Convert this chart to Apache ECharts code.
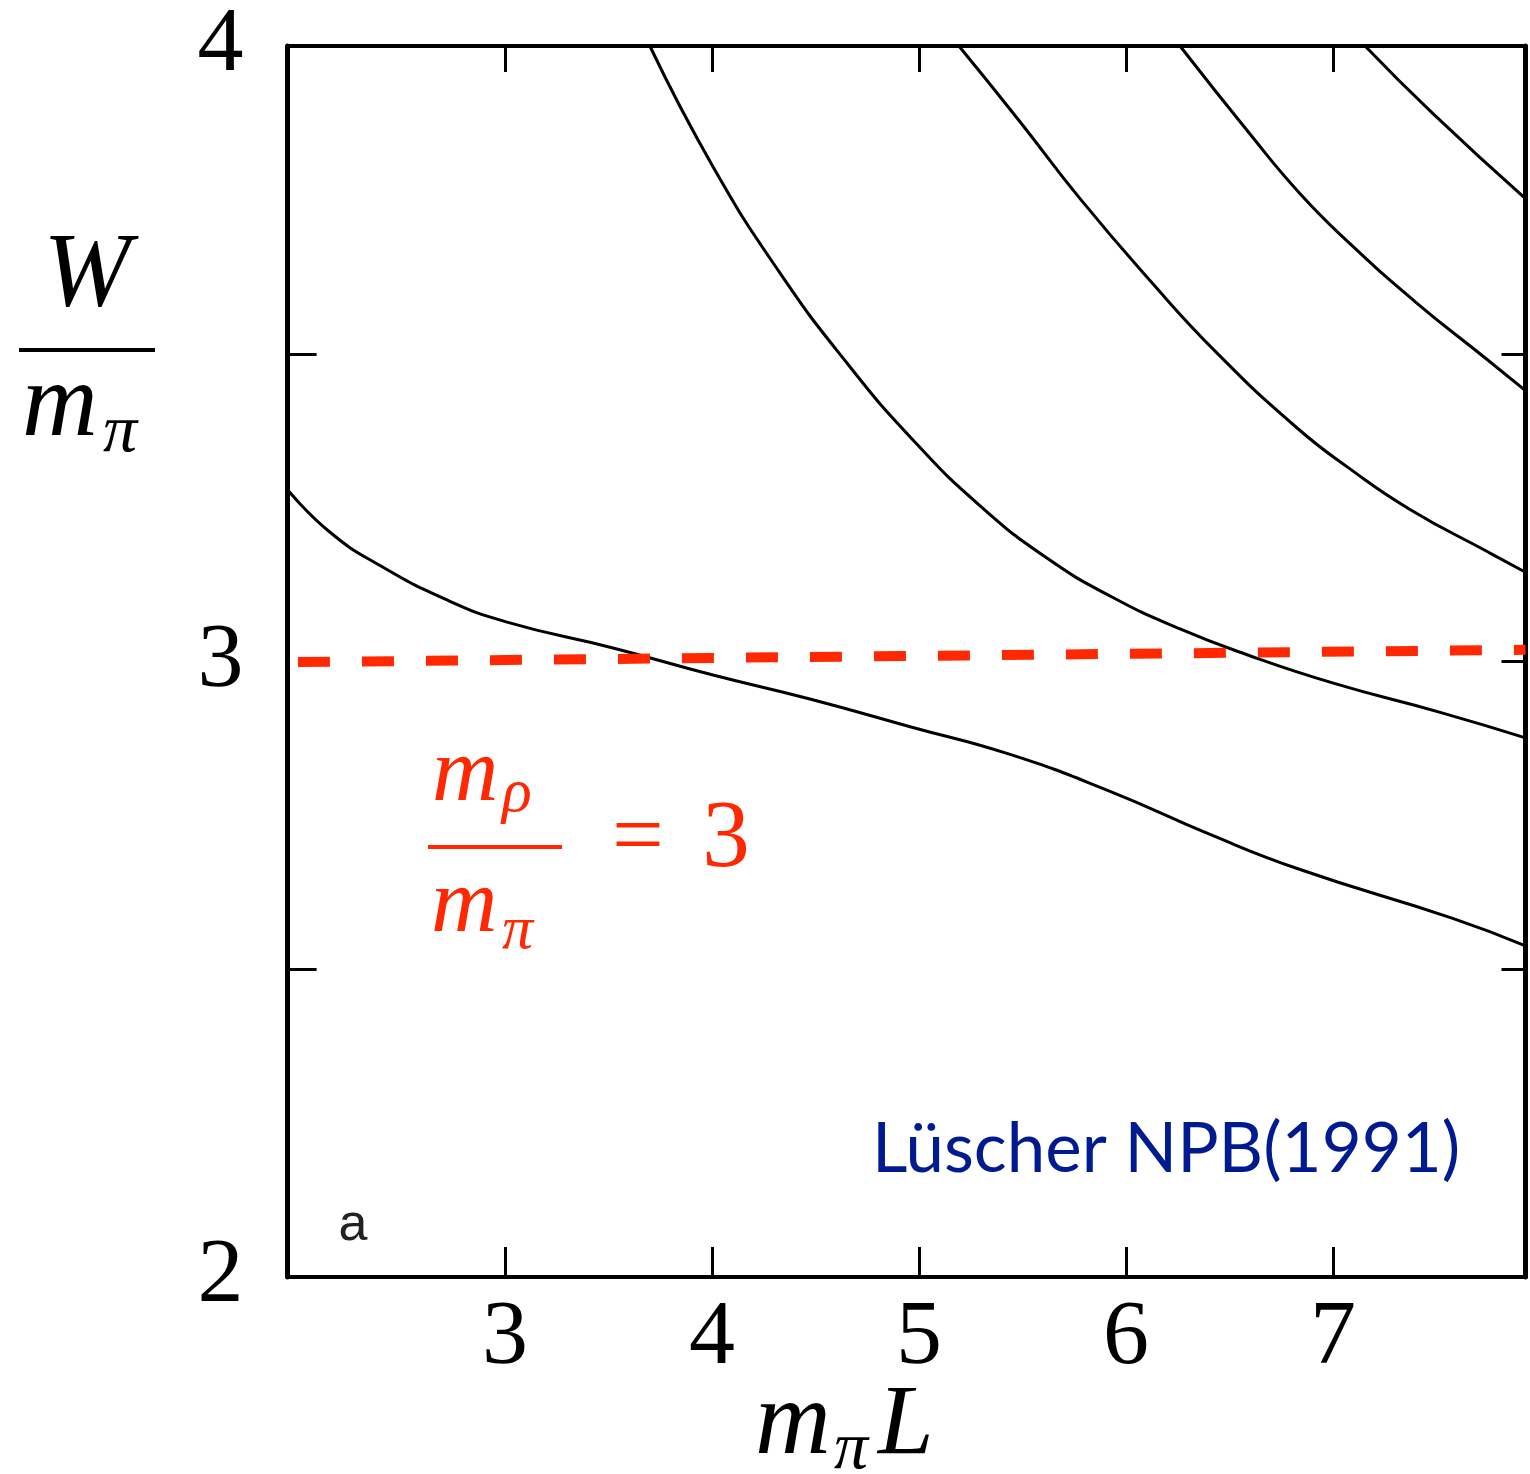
<!DOCTYPE html>
<html>
<head>
<meta charset="utf-8">
<title>Lüscher NPB(1991)</title>
<script src="https://cdn.jsdelivr.net/npm/echarts@6/dist/echarts.min.js"></script>
<style>
    html, body { margin: 0; padding: 0; background: #fff; }
    #chart { width: 1530px; height: 1474px; }
</style>
</head>
<body>
<div id="chart"></div>
<script>
// energy levels W/m_pi against m_pi*L
var level1 = [[1.95, 3.279], [2.155, 3.210], [2.396, 3.156], [2.72, 3.100], [3.01, 3.064], [3.522, 3.022],
    [4.005, 2.978], [4.473, 2.939], [4.957, 2.894], [5.44, 2.849], [5.923, 2.789], [6.406, 2.719],
    [6.841, 2.662], [7.575, 2.583], [7.93, 2.538]];
var level2 = [[3.70, 4.0], [4.005, 3.804], [4.329, 3.631], [4.652, 3.485], [4.971, 3.360], [5.295, 3.253],
    [5.618, 3.168], [5.937, 3.104], [6.261, 3.053], [6.585, 3.011], [7.01, 2.964], [7.522, 2.917], [7.93, 2.876]];
var level3 = [[5.193, 4.0], [5.488, 3.877], [5.778, 3.752], [6.116, 3.619], [6.44, 3.501], [6.821, 3.381],
    [7.082, 3.313], [7.372, 3.247], [7.754, 3.177], [7.93, 3.145]];
var level4 = [[6.261, 4.0], [6.599, 3.857], [6.841, 3.760], [7.082, 3.679], [7.406, 3.582], [7.725, 3.496], [7.93, 3.440]];
var level5 = [[7.155, 4.0], [7.483, 3.890], [7.93, 3.752]];
// m_rho / m_pi = 3 line (as drawn on the scan)
var rhoLine = [[2.0, 2.999], [7.93, 3.019]];

var xTicks = [3, 4, 5, 6, 7];
var yLabels = [2, 3, 4];
var yTicksLeft = [2.5, 3.5];
var yTicksRight = [2.5, 3, 3.5];

var dom = document.getElementById("chart");
var myChart = echarts.init(dom, null, {renderer: 'canvas'});

var serif = '"Liberation Serif", "DejaVu Serif", serif';
var red = '#ff2800';

function curve(d) {
    return {
        type: 'line',
        data: d,
        smooth: 0.5,
        showSymbol: false,
        symbol: 'none',
        lineStyle: {color: '#000', width: 3},
        z: 3
    };
}

function txt(x, y, s, font, color, align) {
    return {
        type: 'text',
        x: x,
        y: y,
        style: {text: s, font: font, fill: color, align: align || 'left', verticalAlign: 'middle'}
    };
}

function bar(x1, x2, y, color) {
    return {type: 'line', shape: {x1: x1, y1: y, x2: x2, y2: y}, style: {stroke: color, lineWidth: 4}};
}

option = {
    backgroundColor: '#fff',
    animation: false,
    grid: {left: 287.6, right: 4.5, top: 42, bottom: 197},
    xAxis: [
        {
            type: 'value', position: 'bottom', min: 1.95, max: 7.93,
            axisLine: {show: true, onZero: false, lineStyle: {color: '#000', width: 4}},
            axisTick: {show: true, inside: true, length: 30, customValues: xTicks, lineStyle: {color: '#000', width: 3}},
            axisLabel: {customValues: xTicks, fontSize: 92, fontFamily: serif, color: '#000', margin: 16},
            splitLine: {show: false}
        },
        {
            type: 'value', position: 'top', min: 1.95, max: 7.93,
            axisLine: {show: true, onZero: false, lineStyle: {color: '#000', width: 4}},
            axisTick: {show: true, inside: true, length: 26, customValues: xTicks, lineStyle: {color: '#000', width: 3}},
            axisLabel: {show: false},
            splitLine: {show: false}
        }
    ],
    yAxis: [
        {
            type: 'value', position: 'left', min: 2, max: 4,
            axisLine: {show: true, onZero: false, lineStyle: {color: '#000', width: 5}},
            axisTick: {show: true, inside: true, length: 29, customValues: yTicksLeft, lineStyle: {color: '#000', width: 3}},
            axisLabel: {customValues: yLabels, fontSize: 92, fontFamily: serif, color: '#000', margin: 44},
            splitLine: {show: false}
        },
        {
            type: 'value', position: 'right', min: 2, max: 4,
            axisLine: {show: true, onZero: false, lineStyle: {color: '#000', width: 5}},
            axisTick: {show: true, inside: true, length: 24, customValues: yTicksRight, lineStyle: {color: '#000', width: 3}},
            axisLabel: {show: false},
            splitLine: {show: false}
        }
    ],
    series: [
        curve(level1),
        curve(level2),
        curve(level3),
        curve(level4),
        curve(level5),
        {
            type: 'line',
            data: rhoLine,
            showSymbol: false,
            symbol: 'none',
            lineStyle: {color: red, width: 10, type: [32, 32], cap: 'butt'},
            z: 4
        }
    ],
    graphic: [
        // y axis title W / m_pi
        txt(87, 277, 'W', 'italic 105px ' + serif, '#000', 'center'),
        bar(19, 155, 350, '#000'),
        txt(22, 407, 'm', 'italic 105px ' + serif, '#000'),
        txt(103, 433, 'π', 'italic 68px ' + serif, '#000'),
        // x axis title m_pi L
        txt(755, 1425, 'm', 'italic 105px ' + serif, '#000'),
        txt(834, 1450, 'π', 'italic 68px ' + serif, '#000'),
        txt(878, 1427, 'L', 'italic 100px ' + serif, '#000'),
        // m_rho / m_pi = 3
        txt(432, 776, 'm', 'italic 92px ' + serif, red),
        txt(502, 795, 'ρ', 'italic 62px ' + serif, red),
        bar(428, 562, 847, red),
        txt(431, 907, 'm', 'italic 92px ' + serif, red),
        txt(502, 932, 'π', 'italic 62px ' + serif, red),
        txt(638, 841, '=', '92px ' + serif, red, 'center'),
        txt(726, 841, '3', '95px ' + serif, red, 'center'),
        // panel letter and reference
        txt(353, 1226, 'a', '52px "Liberation Sans", sans-serif', '#222', 'center'),
        txt(872, 1150, 'Lüscher NPB(1991)', '69px Lato, "Open Sans", sans-serif', '#001a8f')
    ]
};

if (option && typeof option === "object") {
    myChart.setOption(option, true);
}
</script>
</body>
</html>
